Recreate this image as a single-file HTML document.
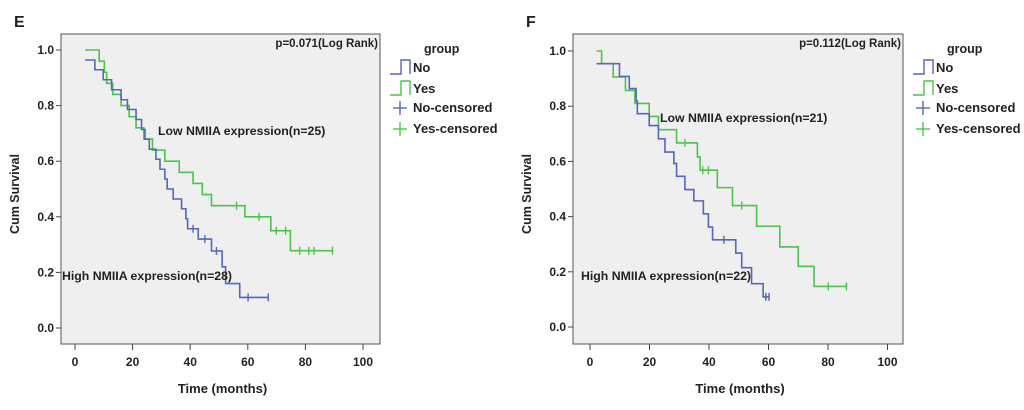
<!DOCTYPE html>
<html><head><meta charset="utf-8"><style>
body{margin:0;background:#fff;}
svg text{font-family:"Liberation Sans",sans-serif;font-weight:bold;fill:#222;}
</style></head><body>
<svg id="c" width="1024" height="405" xmlns="http://www.w3.org/2000/svg"></svg>
<script>
// Panel E data
const eGreenTimes=[8.4,10.2,11.0,13.1,16.0,18.8,21.2,23.9,26.9,31.2,36.2,41.0,44.2,47.4,59.0,68.0,74.8];
const eGreenSurv=[0.96,0.92,0.88,0.84,0.80,0.76,0.72,0.68,0.64,0.60,0.56,0.52,0.48,0.44,0.40,0.35,0.278];
const eGreenCensT=[56.1,63.9,69.9,73.1,78.0,81.2,83.0,89.4];
const eBlueTimes=[6.9,9.8,12.7,16.0,18.2,21.2,23.1,24.3,25.8,28.1,29.5,31.2,32.0,34.1,37.0,38.5,39.1,42.8,47.4,51.1,52.3,57.2];
const eBlueSurv=[0.929,0.893,0.857,0.821,0.786,0.75,0.714,0.679,0.643,0.607,0.571,0.536,0.5,0.464,0.429,0.393,0.357,0.32,0.277,0.22,0.16,0.11];
const eBlueCensT=[41.0,45.1,49.1,60.1,67.1];
// Panel F data
const fGreenTimes=[3.9,7.8,11.9,15.1,19.9,23.0,29.1,36.1,37.0,42.8,47.9,56.0,63.8,70.0,75.3];
const fGreenSurv=[0.954,0.906,0.857,0.81,0.763,0.715,0.667,0.616,0.568,0.505,0.44,0.365,0.29,0.22,0.147];
const fGreenCensT=[31.9,37.9,39.8,51.0,80.1,86.2];
const fBlueTimes=[9.9,13.2,15.5,15.9,19.9,23.0,25.2,28.2,29.1,31.9,34.9,38.1,39.8,41.2,49.0,51.0,54.3,58.2];
const fBlueSurv=[0.908,0.864,0.819,0.773,0.73,0.682,0.634,0.592,0.546,0.498,0.457,0.41,0.362,0.316,0.268,0.215,0.157,0.109];
const fBlueCensT=[45.0,59.1,60.2];
const xTicks=[0,20,40,60,80,100];
const yTicks=[0,0.2,0.4,0.6,0.8,1.0];

const NS="http://www.w3.org/2000/svg";
const svg=document.getElementById('c');
function el(t,a,p){const e=document.createElementNS(NS,t);for(const k in a)e.setAttribute(k,a[k]);(p||svg).appendChild(e);return e;}
function survAt(times,surv,start,t){let s=start;for(let i=0;i<times.length;i++){if(times[i]<=t)s=surv[i];}return s;}

function panel(o){
  const g=el('g',{});
  
  
  const X=v=>o.x0+v*o.xs, Y=v=>o.y0-v*o.ys;
  const lt=el('text',{x:o.bx-47,y:27,'font-size':16},g);lt.textContent=o.letter;
  
  const r=el('rect',{x:o.bx,y:34,width:o.bw,height:310,fill:'#efefef',stroke:'#555','stroke-width':1},g);
  
  yTicks.forEach(v=>{
    el('line',{x1:o.bx-5,x2:o.bx,y1:Y(v),y2:Y(v),stroke:'#444'},g);
    const t=el('text',{x:o.bx-7,y:Y(v)+4,'font-size':12,'text-anchor':'end'},g);t.textContent=v.toFixed(1);
    
  });
  xTicks.forEach(v=>{
    el('line',{x1:X(v),x2:X(v),y1:344,y2:350,stroke:'#444'},g);
    const t=el('text',{x:X(v),y:366,'font-size':12,'text-anchor':'middle'},g);t.textContent=v;
    
  });
  const yt=el('text',{x:0,y:0,'font-size':12.5,'text-anchor':'middle',transform:`translate(${o.bx-42},194) rotate(-90)`},g);yt.textContent='Cum Survival';
  
  const xt=el('text',{x:o.bx+o.bw/2+2,y:393,'font-size':13,'text-anchor':'middle'},g);xt.textContent='Time (months)';
  
  const pt=el('text',{x:o.bx+o.bw-2,y:47,'font-size':11.5,'text-anchor':'end'},g);pt.textContent=o.p;
  
  function curve(times,surv,start,cens,color,name){
    let d=`M${X(o.t0)},${Y(start)}`;
    times.forEach((t,i)=>{d+=` H${X(t)} V${Y(surv[i])}`;});
    const end=Math.max(...cens,times[times.length-1]);d+=` H${X(end)}`;
    const p=el('path',{d:d,fill:'none',stroke:color,'stroke-width':1.6},g);
    
    cens.forEach(t=>{const v=survAt(times,surv,start,t);
      const c=el('line',{x1:X(t),x2:X(t),y1:Y(v)-4,y2:Y(v)+4,stroke:color,'stroke-width':1.4},g);
      });
  }
  curve(o.gT,o.gS,1.0,o.gC,'#4cc34c','yes');
  curve(o.bT,o.bS,o.bStart,o.bC,'#5566bb','no');
  const l1=el('text',{x:o.lowX,y:o.lowY,'font-size':12.3},g);l1.textContent=o.low;
  
  const l2=el('text',{x:o.highX,y:o.highY,'font-size':12.3},g);l2.textContent=o.high;
  
  const lx=o.bx+o.bw+10;
  const lg=el('g',{},g);
  const gt=el('text',{x:lx+34,y:53,'font-size':12.5},lg);gt.textContent='group';
  [['No','#5566bb',0],['Yes','#4cc34c',1]].forEach(([n,c,i])=>{const yy=74+i*21;
    el('path',{d:`M${lx},${yy} H${lx+11} V${yy-14} H${lx+20} V${yy}`,fill:'none',stroke:c,'stroke-width':1.4},lg);
    const t=el('text',{x:lx+23,y:yy-2,'font-size':13},lg);t.textContent=n;
    });
  [['No-censored','#5566bb',0],['Yes-censored','#4cc34c',1]].forEach(([n,c,i])=>{const yy=108+i*21;
    el('line',{x1:lx+3,x2:lx+17,y1:yy,y2:yy,stroke:c,'stroke-width':1.4},lg);
    el('line',{x1:lx+10,x2:lx+10,y1:yy-7,y2:yy+7,stroke:c,'stroke-width':1.4},lg);
    const t=el('text',{x:lx+23,y:yy+4,'font-size':13},lg);t.textContent=n;
    });
}
panel({letter:'E',bx:61,bw:319,x0:75,xs:2.88,y0:328,ys:278,t0:3.5,p:'p=0.071(Log Rank)',
  gT:eGreenTimes,gS:eGreenSurv,gC:eGreenCensT,bT:eBlueTimes,bS:eBlueSurv,bC:eBlueCensT,bStart:0.964,
  low:'Low NMIIA expression(n=25)',lowX:158,lowY:135,high:'High NMIIA expression(n=28)',highX:62,highY:280});
panel({letter:'F',bx:573,bw:330,x0:590,xs:2.975,y0:327,ys:276,t0:2.2,p:'p=0.112(Log Rank)',
  gT:fGreenTimes,gS:fGreenSurv,gC:fGreenCensT,bT:fBlueTimes,bS:fBlueSurv,bC:fBlueCensT,bStart:0.954,
  low:'Low NMIIA expression(n=21)',lowX:660,lowY:122,high:'High NMIIA expression(n=22)',highX:581,highY:280});
</script>
</body></html>
